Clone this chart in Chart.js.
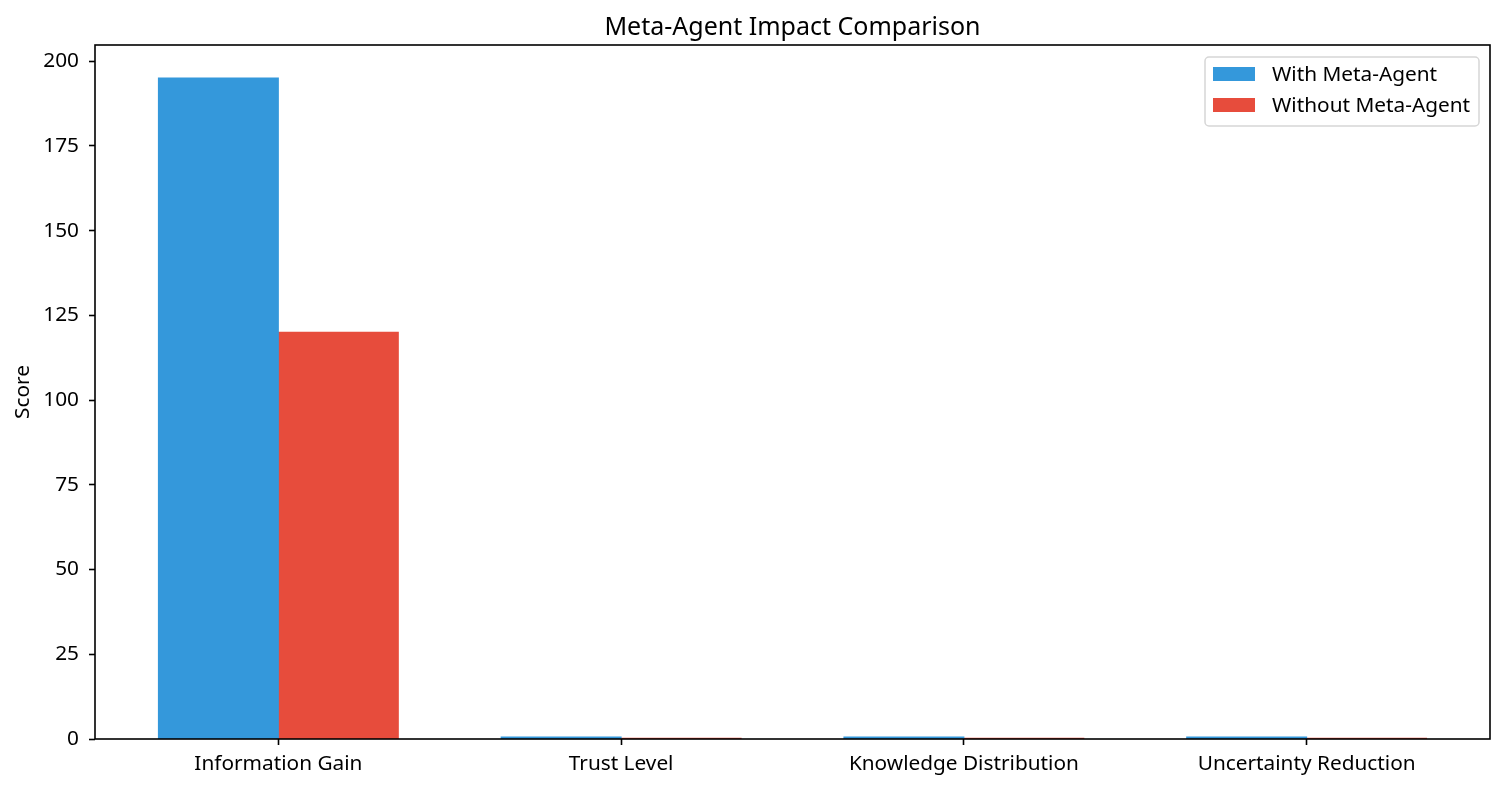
<!DOCTYPE html>
<html>
<head>
<meta charset="utf-8">
<script src="https://cdn.jsdelivr.net/npm/chart.js@4"></script>
<style>
  html, body { margin: 0; padding: 0; background: #ffffff; }
  #wrap { width: 1504px; height: 790px; position: relative; }
</style>
</head>
<body>
<div id="wrap"><canvas id="c" width="1504" height="790"></canvas></div>
<script>
const chartTitle = "Meta-Agent Impact Comparison";
const yAxisTitle = "Score";
const categories = ["Information Gain", "Trust Level", "Knowledge Distribution", "Uncertainty Reduction"];
const seriesNames = ["With Meta-Agent", "Without Meta-Agent"];
const withMetaAgent = [195, 0.6, 0.6, 0.6];
const withoutMetaAgent = [120, 0.25, 0.25, 0.25];
const yTicks = [0, 25, 50, 75, 100, 125, 150, 175, 200];
const seriesColors = ["#3498db", "#e74c3c"];

const FONT = "'Noto Sans', 'DejaVu Sans', sans-serif";
const TICK_PX = 20.8;

const frameAndText = {
  id: 'frameAndText',
  afterDraw(chart) {
    const ctx = chart.ctx;
    const a = chart.chartArea;
    ctx.save();
    // axes box
    ctx.strokeStyle = '#000';
    ctx.lineWidth = 1.6;
    ctx.strokeRect(Math.round(a.left), Math.round(a.top),
                   Math.round(a.right - a.left), Math.round(a.bottom - a.top));
    // title
    ctx.fillStyle = '#000';
    ctx.font = "25px " + FONT;
    ctx.textAlign = 'center';
    ctx.textBaseline = 'alphabetic';
    ctx.fillText(chartTitle, (a.left + a.right) / 2, 35);
    // legend
    const bx = 1205, by = 57, bw = 274, bh = 69;
    ctx.fillStyle = 'rgba(255,255,255,0.8)';
    ctx.strokeStyle = '#d6d6d6';
    ctx.lineWidth = 1.5;
    ctx.beginPath();
    ctx.roundRect(bx, by, bw, bh, 4);
    ctx.fill();
    ctx.stroke();
    ctx.font = TICK_PX + "px " + FONT;
    ctx.textAlign = 'left';
    ctx.textBaseline = 'alphabetic';
    chart.data.datasets.forEach((ds, i) => {
      const top = 67 + i * 31;
      ctx.fillStyle = ds.backgroundColor;
      ctx.fillRect(1213, top, 42, 14);
      ctx.fillStyle = '#000';
      ctx.fillText(ds.label, 1272, top + 14);
    });
    ctx.restore();
  }
};

new Chart(document.getElementById('c'), {
  type: 'bar',
  data: {
    datasets: [
      { label: seriesNames[0], data: withMetaAgent.map((v, i) => ({ x: i, y: v })),
        backgroundColor: seriesColors[0], borderWidth: 0, inflateAmount: 0.5 },
      { label: seriesNames[1], data: withoutMetaAgent.map((v, i) => ({ x: i, y: v })),
        backgroundColor: seriesColors[1], borderWidth: 0, inflateAmount: 0.5 }
    ]
  },
  options: {
    responsive: false,
    animation: false,
    devicePixelRatio: 1,
    layout: { padding: { left: 0, right: 14, top: 45, bottom: 0 } },
    plugins: {
      legend: { display: false },
      title: { display: false },
      tooltip: { enabled: false }
    },
    datasets: { bar: { categoryPercentage: 0.7, barPercentage: 1.0, grouped: true } },
    scales: {
      x: {
        type: 'linear',
        min: -0.535,
        max: 3.535,
        offset: false,
        afterBuildTicks(scale) { scale.ticks = categories.map((c, i) => ({ value: i })); },
        afterFit(scale) { scale.height = 51; },
        grid: { display: true, offset: false, drawOnChartArea: false, tickLength: 6, tickColor: '#000', tickWidth: 1.6, color: '#000' },
        border: { display: false },
        ticks: {
          font: { family: FONT, size: TICK_PX },
          color: '#000',
          padding: 7,
          maxRotation: 0,
          autoSkip: false,
          callback: (v) => categories[v] ?? ''
        }
      },
      y: {
        min: 0,
        max: 204.75,
        afterBuildTicks(scale) { scale.ticks = yTicks.map(v => ({ value: v })); },
        afterFit(scale) { scale.width = 95; },
        grid: { display: true, drawOnChartArea: false, tickLength: 6, tickColor: '#000', tickWidth: 1.6, color: '#000' },
        border: { display: false },
        title: { display: true, text: yAxisTitle, font: { family: FONT, size: TICK_PX }, color: '#000', padding: { top: 11, bottom: 0 } },
        ticks: {
          font: { family: FONT, size: TICK_PX },
          color: '#000',
          padding: 10,
          autoSkip: false
        }
      }
    }
  },
  plugins: [frameAndText]
});
</script>
</body>
</html>
